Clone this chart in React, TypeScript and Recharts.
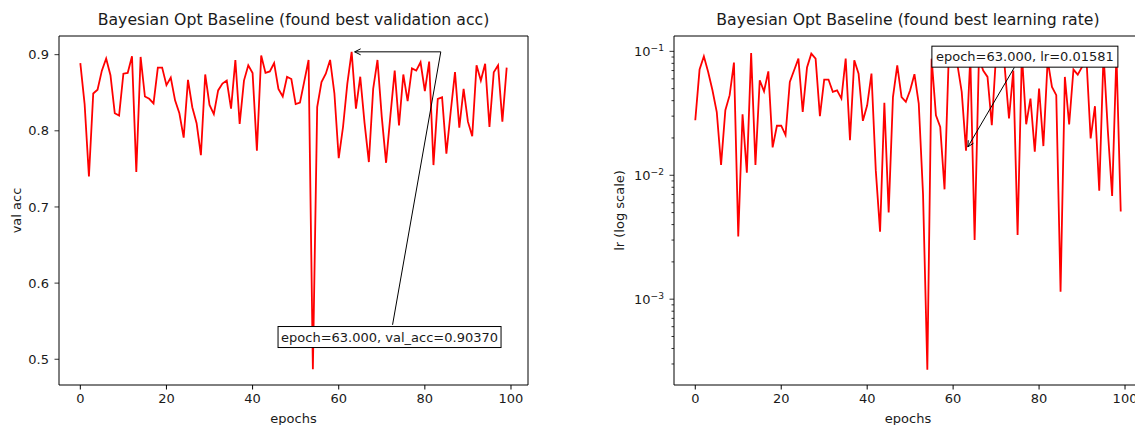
import React from 'react';
import { LineChart, Line, XAxis, YAxis, ReferenceLine, ReferenceDot, Label } from 'recharts';

const FONT = "'DejaVu Sans', 'Liberation Sans', sans-serif";
const TXT = '#1a1a1a';

// x categories: epochs 0..99
const epochs: number[] = Array.from({ length: 100 }, (_, i) => i);

const valAcc: number[] = [
  0.889, 0.835, 0.740, 0.849, 0.854, 0.879, 0.895, 0.873, 0.823, 0.820,
  0.875, 0.876, 0.898, 0.746, 0.897, 0.845, 0.842, 0.836, 0.883, 0.883,
  0.860, 0.870, 0.840, 0.823, 0.791, 0.867, 0.831, 0.810, 0.768, 0.874,
  0.834, 0.822, 0.853, 0.862, 0.866, 0.829, 0.893, 0.809, 0.866, 0.886,
  0.876, 0.774, 0.899, 0.876, 0.878, 0.889, 0.855, 0.845, 0.871, 0.868,
  0.835, 0.837, 0.865, 0.893, 0.487, 0.831, 0.864, 0.875, 0.893, 0.849,
  0.764, 0.805, 0.862, 0.9037, 0.829, 0.871, 0.810, 0.759, 0.855, 0.893,
  0.818, 0.758, 0.820, 0.879, 0.807, 0.874, 0.839, 0.882, 0.879, 0.890,
  0.852, 0.891, 0.755, 0.842, 0.844, 0.770, 0.825, 0.877, 0.804, 0.855,
  0.812, 0.793, 0.886, 0.866, 0.888, 0.805, 0.877, 0.886, 0.812, 0.883,
];

const lrValues: number[] = [
  0.0278, 0.0713, 0.0912, 0.0682, 0.0485, 0.0324, 0.0121, 0.0335, 0.0443, 0.0811,
  0.0032, 0.0311, 0.0105, 0.097, 0.0121, 0.0585, 0.0476, 0.069, 0.0168, 0.0251,
  0.0251, 0.0211, 0.0566, 0.0703, 0.0873, 0.0324, 0.074, 0.0958, 0.0873, 0.03,
  0.0592, 0.0592, 0.0471, 0.0485, 0.0416, 0.0873, 0.0192, 0.0847, 0.0661, 0.0275,
  0.0367, 0.0661, 0.011, 0.0035, 0.0384, 0.005, 0.0428, 0.0771, 0.0428, 0.0391,
  0.0485, 0.0654, 0.0379, 0.007, 0.00027, 0.0873, 0.0305, 0.0246, 0.0077, 0.095,
  0.092, 0.078, 0.0471, 0.01581, 0.09, 0.003, 0.088, 0.07, 0.0622, 0.0254,
  0.095, 0.09, 0.075, 0.0287, 0.07, 0.0033, 0.095, 0.0258, 0.0416, 0.0155,
  0.0501, 0.0172, 0.085, 0.0517, 0.0443, 0.00115, 0.0622, 0.0257, 0.0713, 0.0649,
  0.075, 0.09, 0.0198, 0.0361, 0.0075, 0.095, 0.023, 0.0068, 0.095, 0.0051,
];

const xTicks = [0, 20, 40, 60, 80, 100];
const accTicks = [0.5, 0.6, 0.7, 0.8, 0.9];
const lrMajor = [0.001, 0.01, 0.1];
const lrMinor = [
  0.0003, 0.0004, 0.0005, 0.0006, 0.0007, 0.0008, 0.0009,
  0.002, 0.003, 0.004, 0.005, 0.006, 0.007, 0.008, 0.009,
  0.02, 0.03, 0.04, 0.05, 0.06, 0.07, 0.08, 0.09,
];

const X_DOMAIN: [number, number] = [-4.95, 103.95];
const ACC_DOMAIN: [number, number] = [0.4662, 0.9245];
const LR_DOMAIN: [number, number] = [2.03e-4, 0.133];

const titles = [
  'Bayesian Opt Baseline (found best validation acc)',
  'Bayesian Opt Baseline (found best learning rate)',
];
const accLabel = 'epoch=63.000, val_acc=0.90370';
const lrLabel = 'epoch=63.000, lr=0.01581';

// annotation anchors (data coordinates)
const accArrowPath = [
  { x: 72.5, y: 0.5452 },
  { x: 83.7, y: 0.9037 },
  { x: 63.7, y: 0.9037 },
];
const accBoxCenter = { x: 71.8, y: 0.5292 };
const lrArrow = [
  { x: 74.26, y: 0.0743 },
  { x: 63.42, y: 0.01694 },
];
const lrBoxCenter = { x: 76.7, y: 0.0906 };

const accData = epochs.map((e, i) => ({ epoch: e, acc: valAcc[i] }));
const lrData = epochs.map((e, i) => ({ epoch: e, lr: lrValues[i] }));

const FS = 13;
const TITLE_FS = 15.7;

const makeYTick = (majors: number[], fmt: (v: number) => React.ReactNode) => (props: any) => {
  const { x, y, payload } = props;
  const v = payload.value;
  const isMajor = majors.some((m) => Math.abs(m - v) / m < 1e-6);
  const len = isMajor ? 4.5 : 2.5;
  return (
    <g>
      <line x1={x - len} x2={x} y1={y} y2={y} stroke="#000" strokeWidth={0.8} />
      {isMajor && (
        <text x={x - 10} y={y} dy="0.36em" textAnchor="end" fontSize={FS} fill={TXT} fontFamily={FONT}>
          {fmt(v)}
        </text>
      )}
    </g>
  );
};

const accTick = makeYTick(accTicks, (v) => v.toFixed(1));
const lrTick = makeYTick(lrMajor, (v) => {
  const exp = Math.round(Math.log10(v));
  return (
    <>
      10
      <tspan dy="-0.55em" fontSize={FS * 0.7}>{'\u2212' + String(-exp)}</tspan>
    </>
  );
});

const ArrowShape = (p: any) => {
  const { x1, y1, x2, y2 } = p;
  const ang = Math.atan2(y2 - y1, x2 - x1);
  const L = 6;
  const W = 3;
  const bx = x2 - L * Math.cos(ang);
  const by = y2 - L * Math.sin(ang);
  const nx = -Math.sin(ang);
  const ny = Math.cos(ang);
  return (
    <g>
      <line x1={x1} y1={y1} x2={x2} y2={y2} stroke="#000" strokeWidth={1} />
      <polyline
        points={`${bx + W * nx},${by + W * ny} ${x2},${y2} ${bx - W * nx},${by - W * ny}`}
        fill="none"
        stroke="#000"
        strokeWidth={1}
      />
    </g>
  );
};

const PlainSeg = (p: any) => (
  <line x1={p.x1} y1={p.y1} x2={p.x2} y2={p.y2} stroke="#000" strokeWidth={1} />
);

const makeBox = (text: string, w: number, h: number) => (p: any) => {
  const { cx, cy } = p;
  return (
    <g>
      <rect x={cx - w / 2} y={cy - h / 2} width={w} height={h} fill="#fff" stroke="#000" strokeWidth={1} />
      <text x={cx} y={cy} dy="0.36em" textAnchor="middle" fontSize={FS} fill={TXT} fontFamily={FONT}>
        {text}
      </text>
    </g>
  );
};

const yLabelContent = (text: string, xPos: number) => (props: any) => {
  const vb = props.viewBox || {};
  const cy = vb.y + vb.height / 2;
  return (
    <text
      x={xPos}
      y={cy}
      dy="0.36em"
      textAnchor="middle"
      transform={`rotate(-90, ${xPos}, ${cy})`}
      fontSize={FS}
      fill={TXT}
      fontFamily={FONT}
    >
      {text}
    </text>
  );
};

const xLabelContent = (text: string, yPos: number) => (props: any) => {
  const vb = props.viewBox || {};
  const cx = vb.x + vb.width / 2;
  return (
    <text x={cx} y={yPos} dy="0.36em" textAnchor="middle" fontSize={FS} fill={TXT} fontFamily={FONT}>
      {text}
    </text>
  );
};

const xTickStyle = { fontSize: FS, fill: TXT, fontFamily: FONT };

const titleStyle = (left: number, width: number): React.CSSProperties => ({
  position: 'absolute',
  left,
  width,
  top: 10,
  lineHeight: '20px',
  fontSize: TITLE_FS,
  textAlign: 'center',
  color: TXT,
  whiteSpace: 'nowrap',
});

export default function App() {
  const H = 425;
  return (
    <div
      style={{
        position: 'absolute',
        left: 0,
        top: 0,
        width: 1135,
        height: H,
        overflow: 'hidden',
        background: '#fff',
        fontFamily: FONT,
      }}
    >
      <div style={titleStyle(59, 469)}>{titles[0]}</div>
      <div style={titleStyle(674, 468)}>{titles[1]}</div>

      <div style={{ position: 'absolute', left: 0, top: 0 }}>
        <LineChart width={560} height={H} data={accData} margin={{ top: 36, right: 32, bottom: 0, left: 0 }}>
          <XAxis
            dataKey="epoch"
            type="number"
            domain={X_DOMAIN}
            ticks={xTicks}
            allowDataOverflow
            height={40}
            tickSize={4.5}
            tickMargin={4}
            tick={xTickStyle}
            stroke="#000"
            interval={0}
          >
            <Label content={xLabelContent('epochs', 418)} />
          </XAxis>
          <YAxis
            type="number"
            domain={ACC_DOMAIN}
            ticks={accTicks}
            allowDataOverflow
            width={59}
            tickSize={0}
            tickMargin={0}
            tickLine={false}
            tick={accTick}
            stroke="#000"
            interval={0}
          >
            <Label content={yLabelContent('val acc', 16)} />
          </YAxis>
          <ReferenceLine y={ACC_DOMAIN[1]} stroke="#000" strokeWidth={1} />
          <ReferenceLine x={X_DOMAIN[1]} stroke="#000" strokeWidth={1} />
          <Line
            type="linear"
            dataKey="acc"
            stroke="#ff0000"
            strokeWidth={1.8}
            dot={false}
            isAnimationActive={false}
          />
          <ReferenceLine
            segment={[accArrowPath[0], accArrowPath[1]]}
            ifOverflow="visible"
            shape={PlainSeg}
          />
          <ReferenceLine
            segment={[accArrowPath[1], accArrowPath[2]]}
            ifOverflow="visible"
            shape={ArrowShape}
          />
          <ReferenceDot
            x={accBoxCenter.x}
            y={accBoxCenter.y}
            ifOverflow="visible"
            shape={makeBox(accLabel, 223, 21)}
          />
        </LineChart>
      </div>

      <div style={{ position: 'absolute', left: 560, top: 0 }}>
        <LineChart width={600} height={H} data={lrData} margin={{ top: 36, right: 18, bottom: 0, left: 0 }}>
          <XAxis
            dataKey="epoch"
            type="number"
            domain={X_DOMAIN}
            ticks={xTicks}
            allowDataOverflow
            height={40}
            tickSize={4.5}
            tickMargin={4}
            tick={xTickStyle}
            stroke="#000"
            interval={0}
          >
            <Label content={xLabelContent('epochs', 418)} />
          </XAxis>
          <YAxis
            type="number"
            scale="log"
            domain={LR_DOMAIN}
            ticks={[...lrMajor, ...lrMinor]}
            allowDataOverflow
            width={114}
            tickSize={0}
            tickMargin={0}
            tickLine={false}
            tick={lrTick}
            stroke="#000"
            interval={0}
          >
            <Label content={yLabelContent('lr (log scale)', 59)} />
          </YAxis>
          <ReferenceLine y={LR_DOMAIN[1]} stroke="#000" strokeWidth={1} />
          <ReferenceLine x={X_DOMAIN[1]} stroke="#000" strokeWidth={1} />
          <Line
            type="linear"
            dataKey="lr"
            stroke="#ff0000"
            strokeWidth={1.8}
            dot={false}
            isAnimationActive={false}
          />
          <ReferenceLine segment={[lrArrow[0], lrArrow[1]]} ifOverflow="visible" shape={ArrowShape} />
          <ReferenceDot
            x={lrBoxCenter.x}
            y={lrBoxCenter.y}
            ifOverflow="visible"
            shape={makeBox(lrLabel, 186, 21)}
          />
        </LineChart>
      </div>
    </div>
  );
}
